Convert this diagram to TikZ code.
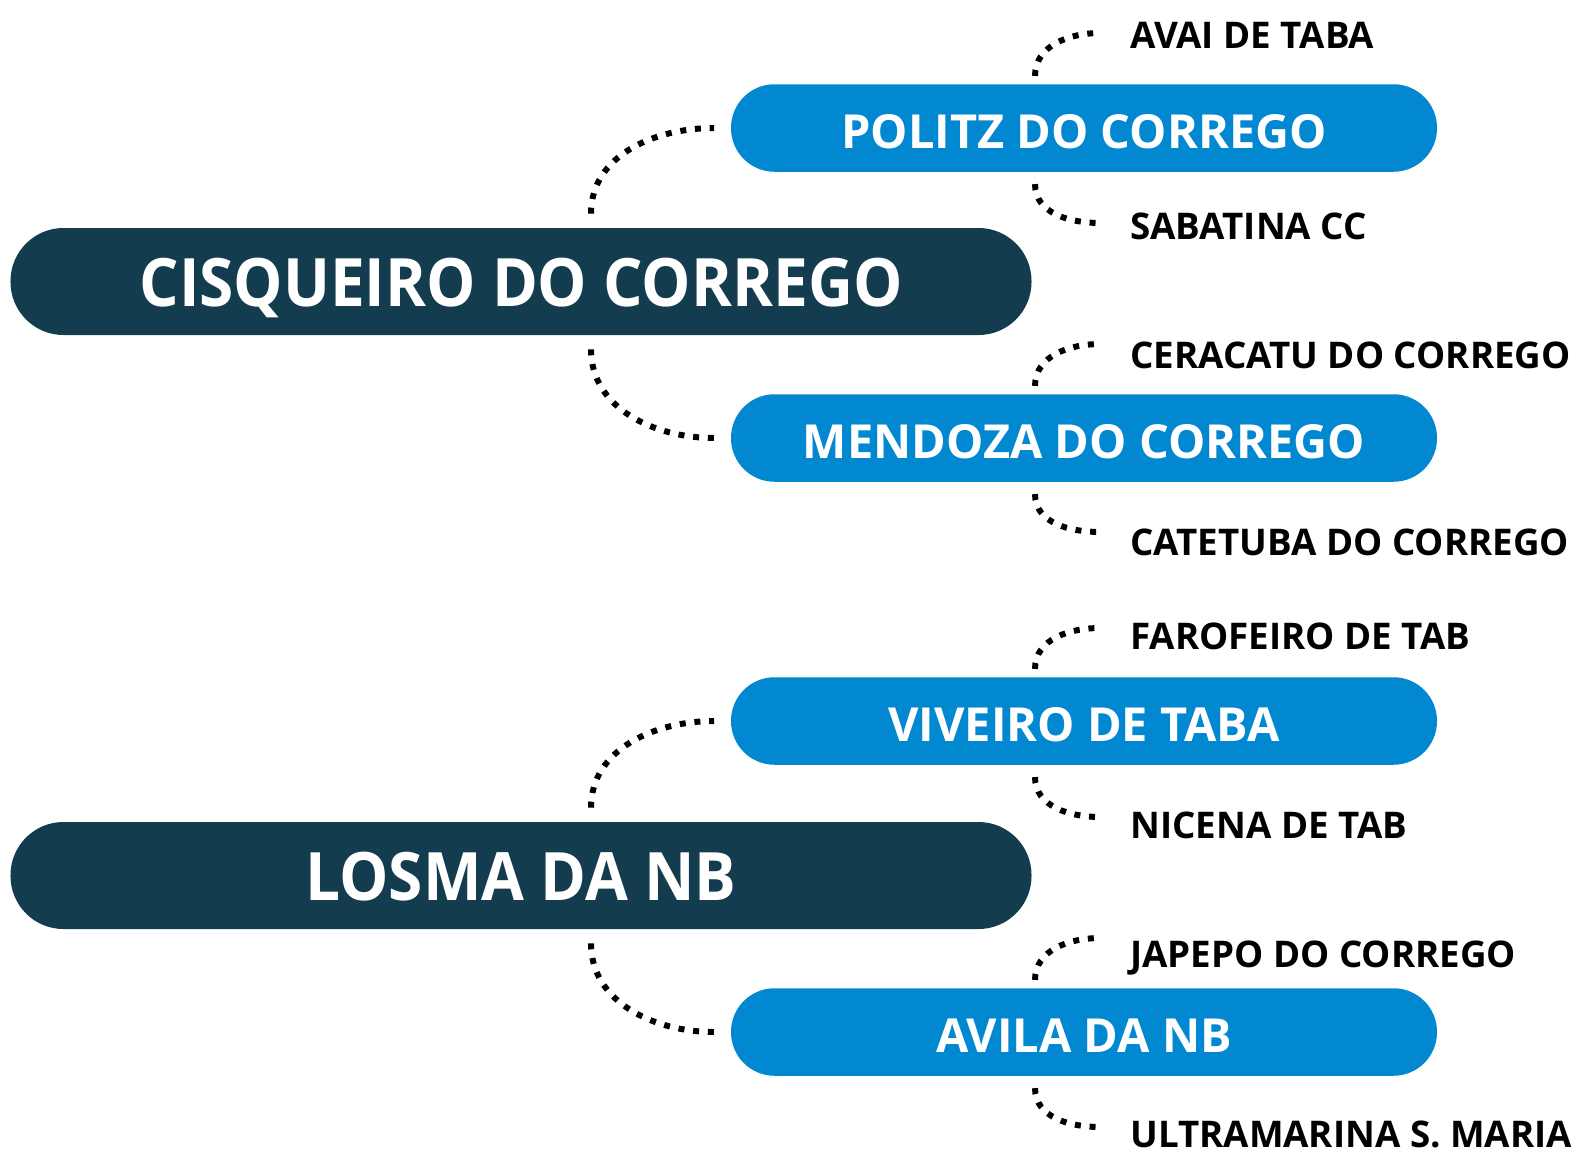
\documentclass[tikz,border=0pt]{standalone}
\usepackage{fontspec}
\setmainfont{Open Sans}
\newfontfamily\rootfont{Open Sans}[FakeStretch = 0.93]
\definecolor{navy}{HTML}{133C4F}
\definecolor{sky}{HTML}{0288D1}

\begin{document}
\begin{tikzpicture}[node distance = 11.26cm,
  root/.style = {rectangle, fill = navy, text = white, rounded corners = 1.06cm,
    minimum width = 20.42cm, minimum height = 2.14cm,
    text height = 28.8pt, text depth = 0pt,
    font = \rootfont\fontsize{38}{40}\selectfont\bfseries},
  branch/.style = {rectangle, fill = sky, text = white, rounded corners = 0.87cm,
    minimum width = 14.12cm, minimum height = 1.75cm,
    text height = 23.7pt, text depth = 0pt,
    font = \fontsize{26.7}{28}\selectfont\bfseries},
  leaf/.style = {anchor = west, inner sep = 0pt, node distance = 0.92cm,
    text height = 14.9pt, text depth = 0pt,
    font = \fontsize{20.9}{22}\selectfont\bfseries},
  link/.style = {line width = 3.4pt, dash pattern = on 3.4pt off 5pt}]
  \useasboundingbox (0,0) rectangle (31.56,-23.12);

  \node [root] (cisq) at (10.42,-5.63) {CISQUEIRO DO CORREGO};
  \node [right of = cisq, yshift = 3.07cm, branch] (politz) {POLITZ DO CORREGO};
  \node [right of = cisq, yshift = -3.13cm, branch] (mendoza)
  {MENDOZA DO CORREGO};

  \node [below of = cisq, node distance = 11.88cm, root] (losma) {LOSMA DA NB};
  \node [right of = losma, yshift = 3.09cm, branch] (viveiro) {VIVEIRO DE TABA};
  \node [right of = losma, yshift = -3.13cm, branch] (avila) {AVILA DA NB};

  \node [right of = politz, leaf, yshift = 1.85cm] (avai) {AVAI DE TABA};
  \node [right of = politz, leaf, yshift = -1.97cm] (sabatina) {SABATINA CC};
  \node [right of = mendoza, leaf, yshift = 1.65cm] (ceracatu)
  {CERACATU DO CORREGO};
  \node [right of = mendoza, leaf, yshift = -2.09cm] (catetuba)
  {CATETUBA DO CORREGO};
  \node [right of = viveiro, leaf, yshift = 1.70cm] (farofeiro)
  {FAROFEIRO DE TAB};
  \node [right of = viveiro, leaf, yshift = -2.09cm] (nicena) {NICENA DE TAB};
  \node [right of = avila, leaf, yshift = 1.55cm] (japepo) {JAPEPO DO CORREGO};
  \node [right of = avila, leaf, yshift = -2.05cm] (ultramarina)
  {ULTRAMARINA S. MARIA};

  % roots to branches
  \draw [link] ([xshift = 1.4cm, yshift = 0.28cm]cisq.north) to [out = 90,
  in = 180] ([xshift = -0.33cm]politz.west);
  \draw [link] ([xshift = 1.4cm, yshift = -0.28cm]cisq.south) to [out = -90,
  in = 180] ([xshift = -0.33cm]mendoza.west);
  \draw [link] ([xshift = 1.4cm, yshift = 0.28cm]losma.north) to [out = 90,
  in = 180] ([xshift = -0.33cm]viveiro.west);
  \draw [link] ([xshift = 1.4cm, yshift = -0.28cm]losma.south) to [out = -90,
  in = 180] ([xshift = -0.33cm]avila.west);

  % branches to leaves
  \draw [link] ([xshift = -0.98cm, yshift = 0.16cm]politz.north) to [out = 90,
  in = 180] ([xshift = -0.6cm, yshift = 0.05cm]avai.west);
  \draw [link] ([xshift = -0.98cm, yshift = -0.24cm]politz.south) to [out = -90,
  in = 180] ([xshift = -0.6cm, yshift = 0.07cm]sabatina.west);
  \draw [link] ([xshift = -0.98cm, yshift = 0.16cm]mendoza.north) to [out = 90,
  in = 180] ([xshift = -0.6cm, yshift = 0.23cm]ceracatu.west);
  \draw [link] ([xshift = -0.98cm, yshift = -0.24cm]mendoza.south) to [out = -90,
  in = 180] ([xshift = -0.6cm, yshift = 0.21cm]catetuba.west);
  \draw [link] ([xshift = -0.98cm, yshift = 0.16cm]viveiro.north) to [out = 90,
  in = 180] ([xshift = -0.6cm, yshift = 0.16cm]farofeiro.west);
  \draw [link] ([xshift = -0.98cm, yshift = -0.24cm]viveiro.south) to [out = -90,
  in = 180] ([xshift = -0.6cm, yshift = 0.17cm]nicena.west);
  \draw [link] ([xshift = -0.98cm, yshift = 0.16cm]avila.north) to [out = 90,
  in = 180] ([xshift = -0.6cm, yshift = 0.33cm]japepo.west);
  \draw [link] ([xshift = -0.98cm, yshift = -0.24cm]avila.south) to [out = -90,
  in = 180] ([xshift = -0.6cm, yshift = 0.15cm]ultramarina.west);
\end{tikzpicture}
\end{document}
